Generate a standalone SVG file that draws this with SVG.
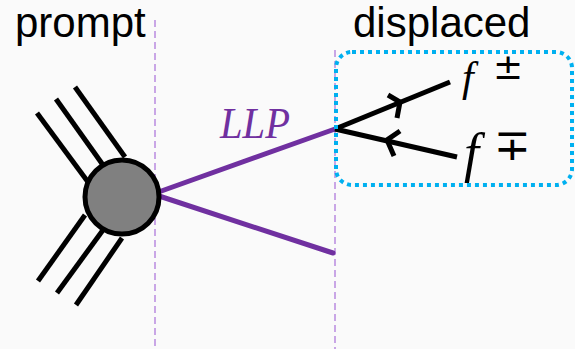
<svg xmlns="http://www.w3.org/2000/svg" width="575" height="349" viewBox="0 0 575 349">
<style>
.lbl{font-family:"Liberation Sans",Arial,sans-serif;font-size:42px;fill:#000}
.math{font-family:"Liberation Serif","DejaVu Serif","Times New Roman",serif;font-style:italic}
.sym{font-family:"DejaVu Sans",sans-serif;font-style:normal;fill:#000}
.jet{stroke:#000;stroke-width:5;fill:none}
.llp{stroke:#7030A0;stroke-width:5;fill:none;stroke-linecap:round}
.ferm{stroke:#000;stroke-width:5;fill:none}
.div{stroke:#B98BE0;stroke-width:1.5;stroke-dasharray:7 4;fill:none}
</style>
<rect width="575" height="349" fill="#fafafa"/>
<g id="dividers">
<line class="div" x1="155" y1="20" x2="155" y2="349"/>
<line class="div" x1="335" y1="50" x2="335" y2="349"/>
</g>
<g id="labels">
<text class="lbl" x="15" y="37">prompt</text>
<text class="lbl" x="353" y="37">displaced</text>
</g>
<g id="jets">
<line class="jet" x1="37" y1="113" x2="88" y2="182"/>
<line class="jet" x1="56" y1="99" x2="103" y2="165"/>
<line class="jet" x1="75" y1="87" x2="125" y2="157"/>
<line class="jet" x1="38" y1="281" x2="85" y2="215"/>
<line class="jet" x1="57" y1="293" x2="103" y2="230"/>
<line class="jet" x1="76" y1="305" x2="122" y2="238"/>
</g>
<g id="connectors">
<line class="llp" x1="153" y1="194" x2="335" y2="129"/>
<line class="llp" x1="153" y1="194" x2="333" y2="253"/>
<line class="ferm" x1="335" y1="129" x2="450" y2="82"/>
<line class="ferm" x1="335" y1="129" x2="457" y2="157"/>
<polyline class="ferm" points="388,95 400,102 397,118"/>
<polyline class="ferm" points="400,131 387,140 394,156"/>
</g>
<g id="vertex">
<circle cx="122" cy="197" r="37" fill="#808080" stroke="#000" stroke-width="5"/>
</g>
<g id="llp-label">
<text class="math" x="220" y="138" font-size="44" fill="#7030A0" textLength="70" lengthAdjust="spacingAndGlyphs">LLP</text>
</g>
<g id="displaced-box">
<rect x="336" y="52" width="236" height="133" rx="16" fill="none" stroke="#00B0F0" stroke-width="4" stroke-dasharray="4 4"/>
<text class="math" x="462" y="91" font-size="42" fill="#000">f</text>
<text class="sym" x="493" y="79" font-size="36">±</text>
<text class="math" x="464" y="171" font-size="54" fill="#000">f</text>
<text class="sym" x="494" y="160" font-size="44">∓</text>
</g>
</svg>
